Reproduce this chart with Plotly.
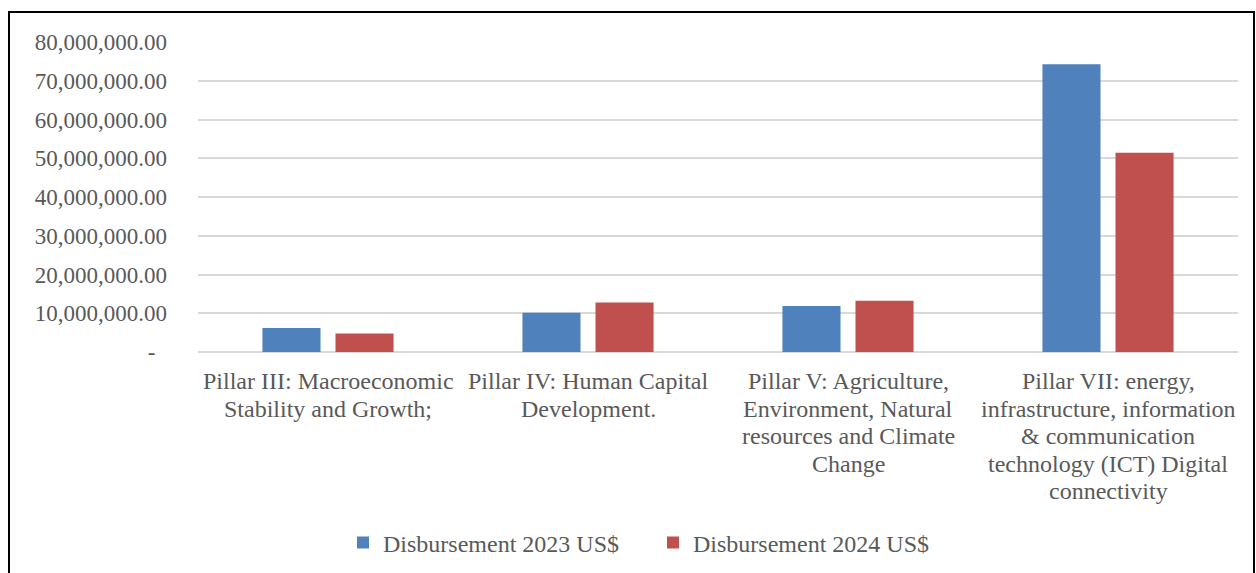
import plotly.graph_objects as go

# Categories and disbursement values (US$)
categories = [
    "Pillar III: Macroeconomic<br>Stability and Growth;",
    "Pillar IV: Human Capital<br>Development.",
    "Pillar V: Agriculture,<br>Environment, Natural<br>resources and Climate<br>Change",
    "Pillar VII: energy,<br>infrastructure, information<br>& communication<br>technology (ICT) Digital<br>connectivity",
]
disb_2023 = [6_200_000, 10_150_000, 11_900_000, 74_250_000]
disb_2024 = [4_800_000, 12_750_000, 13_200_000, 51_400_000]

tick_values = [0, 10_000_000, 20_000_000, 30_000_000, 40_000_000,
               50_000_000, 60_000_000, 70_000_000, 80_000_000]
tick_labels = ["-\u00a0\u00a0"] + [f"{v:,.2f}" for v in tick_values[1:]]

FONT = "Liberation Serif"
TEXT = "#595959"

fig = go.Figure()
fig.add_trace(go.Bar(name="Disbursement 2023 US$", x=categories, y=disb_2023,
                     marker=dict(color="#4F81BD", line=dict(width=0))))
fig.add_trace(go.Bar(name="Disbursement 2024 US$", x=categories, y=disb_2024,
                     marker=dict(color="#C0504D", line=dict(width=0))))

W, H = 1256, 573
L, R, T, B = 198, 18, 42, 221
pw, ph = W - L - R, H - T - B

# category labels, one annotation per line for tighter line spacing
first_line_offset, line_step = 29, 27.5
for cat in categories:
    for i, line in enumerate(cat.split("<br>")):
        fig.add_annotation(x=cat, xref="x", y=0, yref="paper", text=line,
                           showarrow=False, xanchor="center", yanchor="middle",
                           yshift=-(first_line_offset + i * line_step),
                           font=dict(family=FONT, size=24, color=TEXT))

# outer frame around the chart area
fig.add_shape(type="rect", xref="paper", yref="paper",
              x0=(9 - L) / pw, x1=(1254 - L) / pw,
              y0=(H - B - 600) / ph, y1=(H - B - 12) / ph,
              line=dict(color="black", width=2), fillcolor="rgba(0,0,0,0)",
              layer="below")

fig.update_layout(
    width=W, height=H,
    margin=dict(l=L, r=R, t=T, b=B, autoexpand=False),
    paper_bgcolor="white", plot_bgcolor="white",
    barmode="group", bargap=0.438, bargroupgap=0.205,
    font=dict(family=FONT, size=24, color=TEXT),
    showlegend=True,
    legend=dict(orientation="h", x=(653 - L) / pw, xanchor="center",
                y=(H - B - 543) / ph, yanchor="middle",
                entrywidth=265, entrywidthmode="pixels",
                font=dict(family=FONT, size=24, color=TEXT),
                itemsizing="constant", traceorder="normal"),
    xaxis=dict(showgrid=False, showline=False, ticks="", showticklabels=False,
               automargin=False),
    yaxis=dict(range=[0, 80_000_000], tickvals=tick_values, ticktext=tick_labels,
               showgrid=True, gridcolor="#D9D9D9", gridwidth=2,
               zeroline=True, zerolinecolor="#D9D9D9", zerolinewidth=2,
               showline=False, ticks="", ticklabelstandoff=30,
               tickfont=dict(family=FONT, size=23, color=TEXT),
               automargin=False),
)

fig.write_html("out.html")
